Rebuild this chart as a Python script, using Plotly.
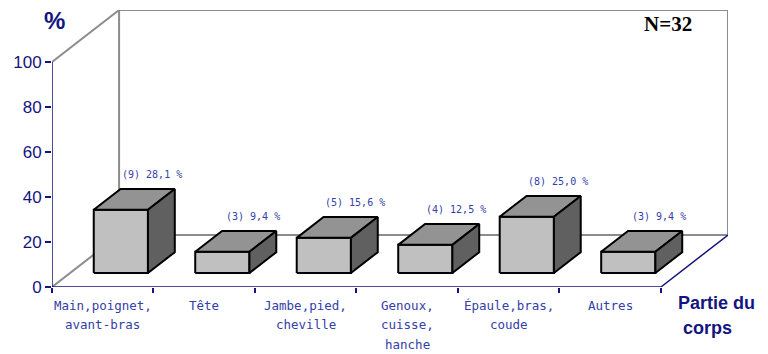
import plotly.graph_objects as go

# Body region categories and injury counts / shares
categories = [
    ["Main,poignet,", "avant-bras"],
    ["Tête"],
    ["Jambe,pied,", "cheville"],
    ["Genoux,", "cuisse,", "hanche"],
    ["Épaule,bras,", "coude"],
    ["Autres"],
]
counts = [9, 3, 5, 4, 8, 3]
percents = [28.1, 9.4, 15.6, 12.5, 25.0, 9.4]
y_ticks = [0, 20, 40, 60, 80, 100]
total_n = 32

# Oblique projection used for the pseudo-3D look
DEPTH_X = 0.661      # category units for full depth
DEPTH_Y = 23.1       # value units for full depth
Y_MAX = 100
N = len(categories)
HALF_W = 0.267       # half bar width (category units)
D_FRONT, D_BACK = 0.27, 0.67

NAVY = "#14147f"
LABEL_BLUE = "#3340a8"
WALL = "#8c8c8c"


def proj(x, y, d):
    return x + d * DEPTH_X, y + d * DEPTH_Y


def segment(p, q, color, width=2):
    (x0, y0), (x1, y1) = proj(*p), proj(*q)
    return go.Scatter(x=[x0, x1], y=[y0, y1], mode="lines",
                      line=dict(color=color, width=width),
                      hoverinfo="skip", showlegend=False)


def face(points, fill):
    xs, ys = zip(*[proj(*p) for p in points])
    xs, ys = list(xs) + [xs[0]], list(ys) + [ys[0]]
    return go.Scatter(x=xs, y=ys, mode="lines", fill="toself",
                      fillcolor=fill, line=dict(color="black", width=2),
                      hoverinfo="skip", showlegend=False)


fig = go.Figure()

# Back wall and side wall outlines
for p, q in [((0, 0, 1), (N, 0, 1)), ((0, Y_MAX, 1), (N, Y_MAX, 1)),
             ((0, 0, 1), (0, Y_MAX, 1)), ((N, 0, 1), (N, Y_MAX, 1)),
             ((0, Y_MAX, 0), (0, Y_MAX, 1)), ((0, 0, 0), (0, 0, 1))]:
    fig.add_trace(segment(p, q, WALL))

# Front axes and floor edge
for p, q in [((0, 0, 0), (N, 0, 0)), ((N, 0, 0), (N, 0, 1)),
             ((0, 0, 0), (0, Y_MAX, 0))]:
    fig.add_trace(segment(p, q, NAVY, 1.5))

annotations = []
for i, (v, n) in enumerate(zip(percents, counts)):
    c = i + 0.5
    l, r = c - HALF_W, c + HALF_W
    f, b = D_FRONT, D_BACK
    fig.add_trace(face([(l, 0, f), (r, 0, f), (r, v, f), (l, v, f)], "#c0c0c0"))
    fig.add_trace(face([(l, v, f), (r, v, f), (r, v, b), (l, v, b)], "#939393"))
    fig.add_trace(face([(r, 0, f), (r, 0, b), (r, v, b), (r, v, f)], "#606060"))
    lx, ly = proj(c, v, b)
    annotations.append(dict(
        x=lx, y=ly, xref="x", yref="y", xanchor="center", yanchor="bottom",
        xshift=4, yshift=7, showarrow=False,
        text=f"({n}) {v:.1f} %".replace(".", ","),
        font=dict(family="DejaVu Sans Mono", size=10, color=LABEL_BLUE)))

# Category labels under the front axis, one line per entry
for i, lines in enumerate(categories):
    for k, line in enumerate(lines):
        annotations.append(dict(
            x=i + 0.5, y=0, xref="x", yref="y", xanchor="center", yanchor="middle",
            yshift=-18 - 19.5 * k, showarrow=False, text=line,
            font=dict(family="DejaVu Sans Mono", size=12.5, color=LABEL_BLUE)))

annotations += [
    dict(x=0, y=1, xref="paper", yref="paper", xanchor="center", yanchor="middle",
         xshift=2, yshift=-10, showarrow=False, text="<b>%</b>",
         font=dict(family="Liberation Sans", size=24, color=NAVY)),
    dict(x=1, y=1, xref="paper", yref="paper", xanchor="center", yanchor="middle",
         xshift=-60, yshift=-14, showarrow=False, text=f"<b>N={total_n}</b>",
         font=dict(family="Liberation Serif", size=21, color="black")),
    dict(x=1, y=0, xref="paper", yref="paper", xanchor="center", yanchor="middle",
         xshift=-12, yshift=-16, showarrow=False, text="<b>Partie du</b>",
         font=dict(family="Liberation Sans", size=18, color=NAVY)),
    dict(x=1, y=0, xref="paper", yref="paper", xanchor="center", yanchor="middle",
         xshift=-21, yshift=-41, showarrow=False, text="<b>corps</b>",
         font=dict(family="Liberation Sans", size=18, color=NAVY)),
]

fig.update_layout(
    width=768, height=354,
    margin=dict(l=52, r=40, t=10, b=67),
    paper_bgcolor="white", plot_bgcolor="white",
    showlegend=False,
    annotations=annotations,
    xaxis=dict(
        range=[0, N + DEPTH_X], showgrid=False, zeroline=False, showline=False,
        tickmode="array", tickvals=list(range(N + 1)), showticklabels=False,
        ticks="outside", ticklen=5, tickcolor=NAVY, tickwidth=1.5,
        automargin=False, fixedrange=True,
    ),
    yaxis=dict(
        range=[0, Y_MAX + DEPTH_Y], showgrid=False, zeroline=False, showline=False,
        tickmode="array", tickvals=y_ticks, ticks="outside", ticklen=6,
        tickcolor=NAVY, tickwidth=1.5, automargin=False,
        tickfont=dict(family="Liberation Sans", size=17, color=NAVY),
        fixedrange=True,
    ),
)

fig.write_html("out.html")
